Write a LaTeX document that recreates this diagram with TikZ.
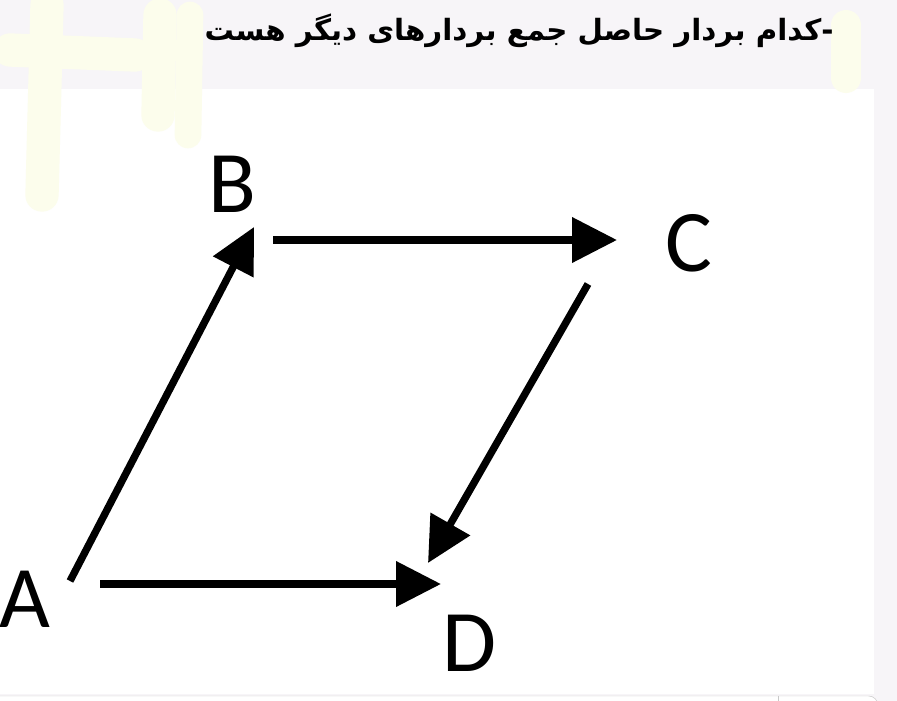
\documentclass[tikz,border=0pt]{standalone}
\usepackage{fontspec}
\usetikzlibrary{arrows.meta}
\TeXXeTstate=1
\newfontfamily\arabicfont[Script=Arabic]{DejaVu Sans}
\newfontfamily\latinfont{Carlito}
\definecolor{bandgray}{RGB}{247,245,248}
\definecolor{marker}{RGB}{252,253,236}
\definecolor{boxline}{RGB}{200,200,200}
\begin{document}
\begin{tikzpicture}[x=0.03cm, y=-0.03cm,
    >={Triangle[length=1.35cm, width=1.32cm]},
    vec/.style={->, line width=0.22cm},
    letter/.style={inner sep=0pt, font=\latinfont\fontsize{75}{80}\selectfont},
    hl/.style={marker, line width=1cm, line cap=round}]

        % background
        \useasboundingbox (0,0) rectangle (897,701);
        \fill[bandgray] (0,0) rectangle (897,701);
        \fill[white] (0,89) rectangle (874,694);
        \begin{scope}
            \clip (0,0) rectangle (897,701);
            \draw[boxline, fill=white, rounded corners=8] (-20,696) rectangle (878,760);
            \draw[boxline] (778,696) -- (778,701);
        \end{scope}

        % marker strokes
        \draw[hl] (10,50) -- (135,55);
        \draw[hl] (47,5) -- (42,195);
        \draw[hl] (160,15) -- (158,115);
        \draw[hl, line width=0.8cm] (190,15) -- (188,135);
        \draw[hl, line width=0.9cm] (846,25) -- (846,78);

        \node at (519,31) (title) {\arabicfont\bfseries\fontsize{25}{30}\selectfont\beginR -کدام بردار حاصل جمع بردارهای دیگر هست\endR};

        \node[letter] at (25,599) (A) {A};
        \node[letter] at (232,184) (B) {B};
        \node[letter] at (689,243) (C) {C};
        \node[letter] at (470,643) (D) {D};

        \coordinate (ab1) at (70,581);
        \coordinate (ab2) at (254,227);
        \coordinate (bc1) at (273,240);
        \coordinate (bc2) at (617,240);
        \coordinate (cd1) at (588,284);
        \coordinate (cd2) at (428,563);
        \coordinate (ad1) at (100,584);
        \coordinate (ad2) at (441,584);

        \draw[vec] (ab1) -- (ab2);
        \draw[vec] (bc1) -- (bc2);
        \draw[vec] (cd1) -- (cd2);
        \draw[vec] (ad1) -- (ad2);

\end{tikzpicture}
\end{document}
